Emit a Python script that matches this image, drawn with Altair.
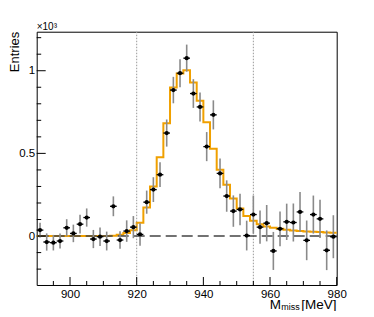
import altair as alt
import pandas as pd

# ---- data ----
centers = [891, 893, 895, 897, 899, 901, 903, 905, 907, 909, 911, 913, 915, 917, 919,
           921, 923, 925, 927, 929, 931, 933, 935, 937, 939, 941, 943, 945, 947, 949,
           951, 953, 955, 957, 959, 961, 963, 965, 967, 969, 971, 973, 975, 977, 979]
counts = [36, -36, -40, -30, 50, 16, 72, 112, -18, -4, -30, 180, -24, 30, 54,
          10, 205, 281, 371, 623, 883, 985, 1076, 862, 781, 541, 733, 379, 242, 151,
          161, 3, 130, 54, 78, -90, 44, 86, 82, 146, -26, 130, 104, -86, -4]
errors = [45, 52, 47, 45, 52, 53, 57, 55, 55, 56, 57, 60, 53, 65, 67,
          68, 70, 75, 75, 82, 80, 85, 82, 87, 88, 88, 88, 90, 95, 95,
          95, 90, 115, 100, 110, 115, 105, 110, 115, 120, 120, 115, 115, 120, 130]

fit_edges = [890, 892, 894, 896, 898, 900, 902, 904, 906, 908, 910, 912, 914, 916, 918,
             920, 922, 924, 926, 928, 930, 932, 934, 936, 938, 940, 942, 944, 946, 948,
             950, 952, 954, 956, 958, 960, 962, 964, 966, 968, 970, 972, 974, 976, 978, 980]
fit_values = [0, 0, 0, 0, 0, 0, 0, 0, 0, 0, 0, 2, 8, 18, 35,
              80, 173, 300, 476, 682, 899, 983, 1003, 929, 819, 688, 528, 401, 311, 227,
              167, 122, 92, 72, 58, 50, 44, 38, 34, 31, 28, 26, 24, 22, 20, 20]

x_major = [900, 920, 940, 960, 980]
x_minor = [895, 905, 910, 915, 925, 930, 935, 945, 950, 955, 965, 970, 975]
y_major = [0, 500, 1000]
y_minor = [-200, -100, 100, 200, 300, 400, 600, 700, 800, 900, 1100, 1200]
signal_window = [920, 955]
zero_line = [0]

W, H = 300, 253.3
FONT = "Liberation Sans"

xs = alt.Scale(domain=[890, 980], nice=False, zero=False)
ys = alt.Scale(domain=[-296, 1236], nice=False, zero=False)

xaxis = alt.Axis(values=x_major, ticks=False, domain=False, grid=False,
                 labelFontSize=11.5, labelFont=FONT, labelColor="black",
                 labelPadding=3.5, labelFlush=False, labelOverlap=False)
yaxis = alt.Axis(values=y_major, ticks=False, domain=False, grid=False,
                 labelExpr="datum.value/1000",
                 labelFontSize=11.5, labelFont=FONT, labelColor="black",
                 labelPadding=2, labelOverlap=False)


def X(f):
    return alt.X(f, scale=xs, axis=xaxis, title=None)


def Y(f):
    return alt.Y(f, scale=ys, axis=yaxis, title=None)


pts = pd.DataFrame({"c": centers, "n": counts, "e": errors})
pts["lo"] = pts["n"] - pts["e"]
pts["hi"] = pts["n"] + pts["e"]
pts["xl"] = pts["c"] - 1
pts["xh"] = pts["c"] + 1
fit = pd.DataFrame({"x": fit_edges, "y": fit_values})

fit_line = alt.Chart(fit).mark_line(interpolate="step-after", color="#f0a000",
                                    strokeWidth=2).encode(x=X("x:Q"), y=Y("y:Q"))

vlines = alt.Chart(pd.DataFrame({"v": signal_window})).mark_rule(
    color="#999999", strokeDash=[1.5, 1.5], strokeWidth=1).encode(x=X("v:Q"))

zline = alt.Chart(pd.DataFrame({"v": zero_line})).mark_rule(
    color="#444444", strokeDash=[11, 5], strokeWidth=1.5).encode(y=Y("v:Q"))

ebars = alt.Chart(pts).mark_rule(color="#8a8a8a", strokeWidth=1.6).encode(
    x=X("c:Q"), y=Y("lo:Q"), y2="hi:Q")
hbars = alt.Chart(pts).mark_rule(color="black", strokeWidth=1.3).encode(
    x=X("xl:Q"), x2="xh:Q", y=Y("n:Q"))
dots = alt.Chart(pts).mark_circle(color="black", size=18, opacity=1).encode(
    x=X("c:Q"), y=Y("n:Q"))

xt_major = alt.Chart(pd.DataFrame({"v": x_major})).mark_rule(color="black").encode(
    x=X("v:Q"), y=alt.value(H), y2=alt.value(H - 8))
xt_minor = alt.Chart(pd.DataFrame({"v": x_minor})).mark_rule(color="black").encode(
    x=X("v:Q"), y=alt.value(H), y2=alt.value(H - 4))
yt_major = alt.Chart(pd.DataFrame({"v": y_major})).mark_rule(color="black").encode(
    y=Y("v:Q"), x=alt.value(0), x2=alt.value(9))
yt_minor = alt.Chart(pd.DataFrame({"v": y_minor})).mark_rule(color="black").encode(
    y=Y("v:Q"), x=alt.value(0), x2=alt.value(4.5))

one = pd.DataFrame({"a": [0]})


def label(txt, x, y, size, align="left", angle=0):
    return alt.Chart(one).mark_text(text=txt, font=FONT, fontSize=size, color="black",
                                    align=align, baseline="alphabetic",
                                    angle=angle).encode(x=alt.value(x), y=alt.value(y))


exp_lbl = label("×10³", 0, -1.7, 10)
ytitle = label("Entries", -18, 0, 13, align="right", angle=270)
xt_M = label("M", 233, 277.3, 13.5)
xt_sub = label("miss", 244.5, 278.8, 9)
xt_unit = label("[MeV]", 264.5, 277.3, 13.5)

chart = alt.layer(
    fit_line, vlines, zline, ebars, hbars, dots,
    xt_major, xt_minor, yt_major, yt_minor,
    exp_lbl, ytitle, xt_M, xt_sub, xt_unit,
).properties(
    width=W, height=H,
    autosize=alt.AutoSizeParams(type="none"),
    padding={"left": 28.7, "top": 23.7, "right": 29, "bottom": 26},
    background="white",
).configure_view(stroke="black", strokeWidth=1)

chart.save("out.html", embed_options={"renderer": "svg", "actions": False})
